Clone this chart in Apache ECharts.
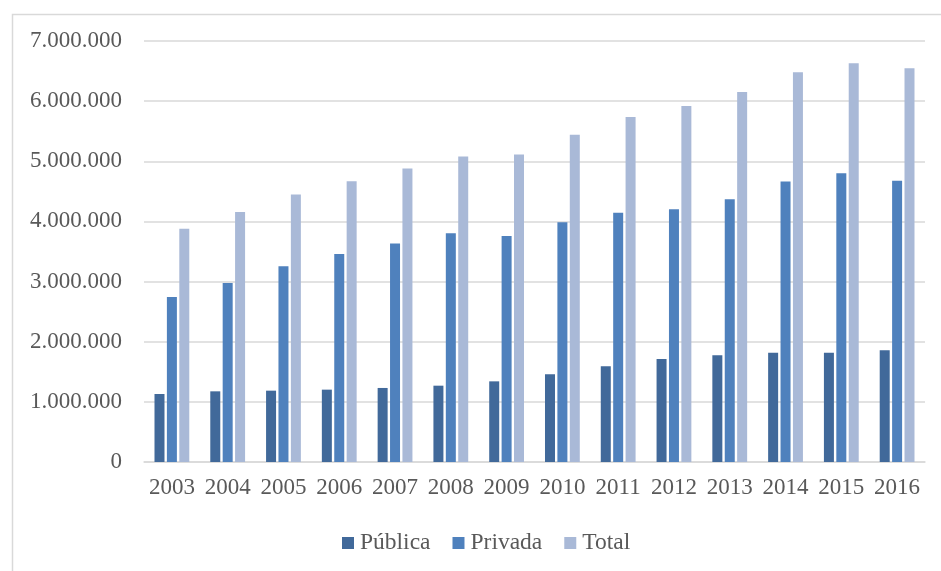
<!DOCTYPE html>
<html>
<head>
<meta charset="utf-8">
<script src="https://cdn.jsdelivr.net/npm/echarts@6/dist/echarts.min.js"></script>
<style>
  html, body { margin: 0; padding: 0; background: #ffffff; }
  #chart { width: 941px; height: 571px; }
</style>
</head>
<body>
<div id="chart"></div>
<script>
// Enrolments by year: public, private and total
const years = ['2003','2004','2005','2006','2007','2008','2009','2010','2011','2012','2013','2014','2015','2016'];
const publica = [1131000,1175000,1186000,1203000,1231000,1269000,1341000,1458000,1591000,1713000,1774000,1818000,1818000,1857000];
const privada = [2744000,2977000,3254000,3459000,3631000,3803000,3758000,3986000,4146000,4202000,4368000,4662000,4800000,4678000];
const total   = [3880000,4157000,4446000,4667000,4878000,5078000,5111000,5443000,5737000,5920000,6153000,6480000,6630000,6546000];
const seriesNames = ['Pública', 'Privada', 'Total'];

const FONT = '"Liberation Serif", "Times New Roman", serif';
const TEXT = '#595959';
const GRID = '#d9d9d9';
const colors = ['#41699a', '#4f81bd', '#a9b9d7'];

// Portuguese-style thousands separator
function fmt(v) {
  return String(v).replace(/\B(?=(\d{3})+(?!\d))/g, '.');
}

const chart = echarts.init(document.getElementById('chart'), null, { renderer: 'canvas' });

chart.setOption({
  animation: false,
  backgroundColor: '#ffffff',
  color: colors,
  graphic: [{
    type: 'rect',
    left: 10, top: 12,
    shape: { width: 960, height: 600 },
    style: { fill: 'none', stroke: '#d9d9d9', lineWidth: 1.5 },
    silent: true,
    z: -1
  }],
  grid: { left: 144, right: 16, top: 41, bottom: 109, containLabel: false },
  legend: {
    data: seriesNames,
    left: 337,
    top: 526,
    icon: 'rect',
    itemWidth: 12,
    itemHeight: 12,
    itemGap: 22,
    textStyle: { fontFamily: FONT, fontSize: 23.5, color: TEXT, padding: [0, 0, 0, 1] }
  },
  xAxis: {
    type: 'category',
    data: years,
    axisLine: { lineStyle: { color: GRID, width: 1.5 } },
    axisTick: { show: false },
    axisLabel: { interval: 0, fontFamily: FONT, fontSize: 23, color: TEXT, margin: 14 }
  },
  yAxis: {
    type: 'value',
    min: 0,
    max: 7000000,
    interval: 1000000,
    axisLine: { show: false },
    axisTick: { show: false },
    splitLine: { lineStyle: { color: GRID, width: 1.5 } },
    axisLabel: { fontFamily: FONT, fontSize: 23, color: TEXT, margin: 22, formatter: fmt }
  },
  series: [
    { name: seriesNames[0], type: 'bar', data: publica, barWidth: 10, barGap: '24%' },
    { name: seriesNames[1], type: 'bar', data: privada, barWidth: 10, barGap: '24%' },
    { name: seriesNames[2], type: 'bar', data: total,   barWidth: 10, barGap: '24%' }
  ]
});
</script>
</body>
</html>
